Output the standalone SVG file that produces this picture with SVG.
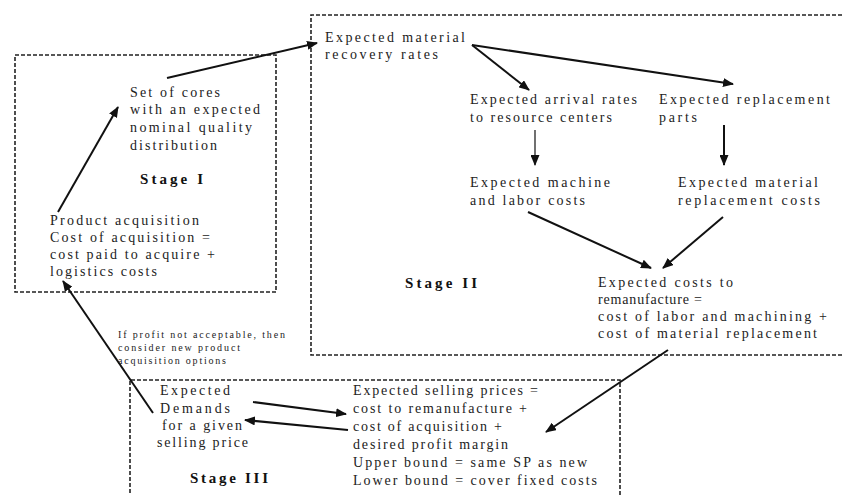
<svg xmlns="http://www.w3.org/2000/svg" width="842" height="495" viewBox="0 0 842 495">
  <style>
    .t { font-family: "Liberation Serif", "Times New Roman", serif; font-size: 14px; fill: #222; }
    .s { font-family: "Liberation Serif", "Times New Roman", serif; font-size: 10px; fill: #222; }
    .h { font-family: "Liberation Serif", "Times New Roman", serif; font-size: 15px; font-weight: bold; fill: #111; }
    .box { fill: none; stroke: #222; stroke-width: 1.6; stroke-dasharray: 4 2; }
    .c { fill: none; stroke: #111; stroke-width: 2; }
    .thin { fill: none; stroke: #111; stroke-width: 1.2; }
  </style>
  <defs>
    <marker id="ah" markerUnits="userSpaceOnUse" markerWidth="11" markerHeight="9" refX="10" refY="4.5" orient="auto">
      <path d="M0,0 L11,4.5 L0,9 Z" fill="#111"/>
    </marker>
  </defs>
  <rect width="842" height="495" fill="#fff"/>

  <!-- stage frames -->
  <g id="stage1">
    <rect class="box" x="15" y="55" width="261" height="237"/>
    <text class="h" x="140" y="184" textLength="63" lengthAdjust="spacing">Stage I</text>
  </g>
  <g id="stage2">
    <path class="box" d="M842,15 H311 V355 H842"/>
    <text class="h" x="405" y="288" textLength="72" lengthAdjust="spacing">Stage II</text>
  </g>
  <g id="stage3">
    <path class="box" d="M620,495 V380 H130 V495"/>
    <text class="h" x="190" y="483" textLength="78" lengthAdjust="spacing">Stage III</text>
  </g>

  <!-- stage I nodes -->
  <g id="cores">
    <text class="t" x="130" y="97" textLength="90" lengthAdjust="spacing">Set of cores</text>
    <text class="t" x="130" y="114" textLength="130" lengthAdjust="spacing">with an expected</text>
    <text class="t" x="130" y="132" textLength="122" lengthAdjust="spacing">nominal quality</text>
    <text class="t" x="130" y="150" textLength="87" lengthAdjust="spacing">distribution</text>
  </g>
  <g id="acquisition">
    <text class="t" x="50" y="225" textLength="149" lengthAdjust="spacing">Product acquisition</text>
    <text class="t" x="50" y="242" textLength="160" lengthAdjust="spacing">Cost of acquisition =</text>
    <text class="t" x="50" y="259" textLength="165" lengthAdjust="spacing">cost paid to acquire +</text>
    <text class="t" x="50" y="276" textLength="107" lengthAdjust="spacing">logistics costs</text>
  </g>

  <!-- stage II nodes -->
  <g id="recovery">
    <text class="t" x="325" y="42" textLength="140" lengthAdjust="spacing">Expected material</text>
    <text class="t" x="325" y="59" textLength="113" lengthAdjust="spacing">recovery  rates</text>
  </g>
  <g id="arrival">
    <text class="t" x="470" y="104" textLength="167" lengthAdjust="spacing">Expected arrival rates</text>
    <text class="t" x="470" y="122" textLength="142" lengthAdjust="spacing">to resource centers</text>
  </g>
  <g id="parts">
    <text class="t" x="659" y="104" textLength="171" lengthAdjust="spacing">Expected replacement</text>
    <text class="t" x="659" y="122" textLength="38" lengthAdjust="spacing">parts</text>
  </g>
  <g id="machine">
    <text class="t" x="470" y="187" textLength="140" lengthAdjust="spacing">Expected machine</text>
    <text class="t" x="470" y="205" textLength="115" lengthAdjust="spacing">and labor costs</text>
  </g>
  <g id="material">
    <text class="t" x="678" y="187" textLength="140" lengthAdjust="spacing">Expected material</text>
    <text class="t" x="678" y="205" textLength="142" lengthAdjust="spacing">replacement costs</text>
  </g>
  <g id="remanufacture">
    <text class="t" x="598" y="287" textLength="135" lengthAdjust="spacing">Expected costs to</text>
    <text class="t" x="598" y="304" textLength="104" lengthAdjust="spacing">remanufacture =</text>
    <text class="t" x="598" y="321" textLength="229" lengthAdjust="spacing">cost of labor and machining +</text>
    <text class="t" x="598" y="338" textLength="219" lengthAdjust="spacing">cost of material replacement</text>
  </g>

  <!-- stage III nodes -->
  <g id="demands">
    <text class="t" x="160" y="395" textLength="70" lengthAdjust="spacing">Expected</text>
    <text class="t" x="160" y="413" textLength="70" lengthAdjust="spacing">Demands</text>
    <text class="t" x="162" y="430" textLength="80" lengthAdjust="spacing">for a given</text>
    <text class="t" x="157" y="447" textLength="91" lengthAdjust="spacing">selling price</text>
  </g>
  <g id="prices">
    <text class="t" x="353" y="395" textLength="185" lengthAdjust="spacing">Expected selling prices =</text>
    <text class="t" x="353" y="413" textLength="174" lengthAdjust="spacing">cost to remanufacture +</text>
    <text class="t" x="353" y="431" textLength="149" lengthAdjust="spacing">cost of acquisition +</text>
    <text class="t" x="353" y="449" textLength="155" lengthAdjust="spacing">desired profit margin</text>
    <text class="t" x="353" y="467" textLength="234" lengthAdjust="spacing">Upper bound = same SP as new</text>
    <text class="t" x="353" y="485" textLength="244" lengthAdjust="spacing">Lower bound = cover fixed costs</text>
  </g>

  <!-- feedback note -->
  <g id="note">
    <text class="s" x="118" y="338" textLength="167" lengthAdjust="spacing">If profit not acceptable, then</text>
    <text class="s" x="118" y="351" textLength="122" lengthAdjust="spacing">consider new product</text>
    <text class="s" x="118" y="364" textLength="108" lengthAdjust="spacing">acquisition options</text>
  </g>

  <!-- connectors -->
  <g id="connectors">
    <line class="c" x1="58" y1="212" x2="118" y2="107" marker-end="url(#ah)"/>
    <line class="c" x1="167" y1="78" x2="317" y2="43" marker-end="url(#ah)"/>
    <line class="c" x1="472" y1="45" x2="529" y2="90" marker-end="url(#ah)"/>
    <line class="c" x1="472" y1="45" x2="733" y2="84" marker-end="url(#ah)"/>
    <line class="thin" x1="535" y1="130" x2="535" y2="165" marker-end="url(#ah)"/>
    <line class="c" x1="724" y1="125" x2="724" y2="165" marker-end="url(#ah)"/>
    <line class="c" x1="528" y1="212" x2="651" y2="268" marker-end="url(#ah)"/>
    <line class="c" x1="723" y1="217" x2="663" y2="268" marker-end="url(#ah)"/>
    <line class="c" x1="668" y1="350" x2="546" y2="432" marker-end="url(#ah)"/>
    <line class="c" x1="253" y1="402" x2="346" y2="414" marker-end="url(#ah)"/>
    <line class="c" x1="348" y1="430" x2="245" y2="420" marker-end="url(#ah)"/>
    <line class="c" x1="153" y1="413" x2="63" y2="281" marker-end="url(#ah)"/>
  </g>
</svg>
